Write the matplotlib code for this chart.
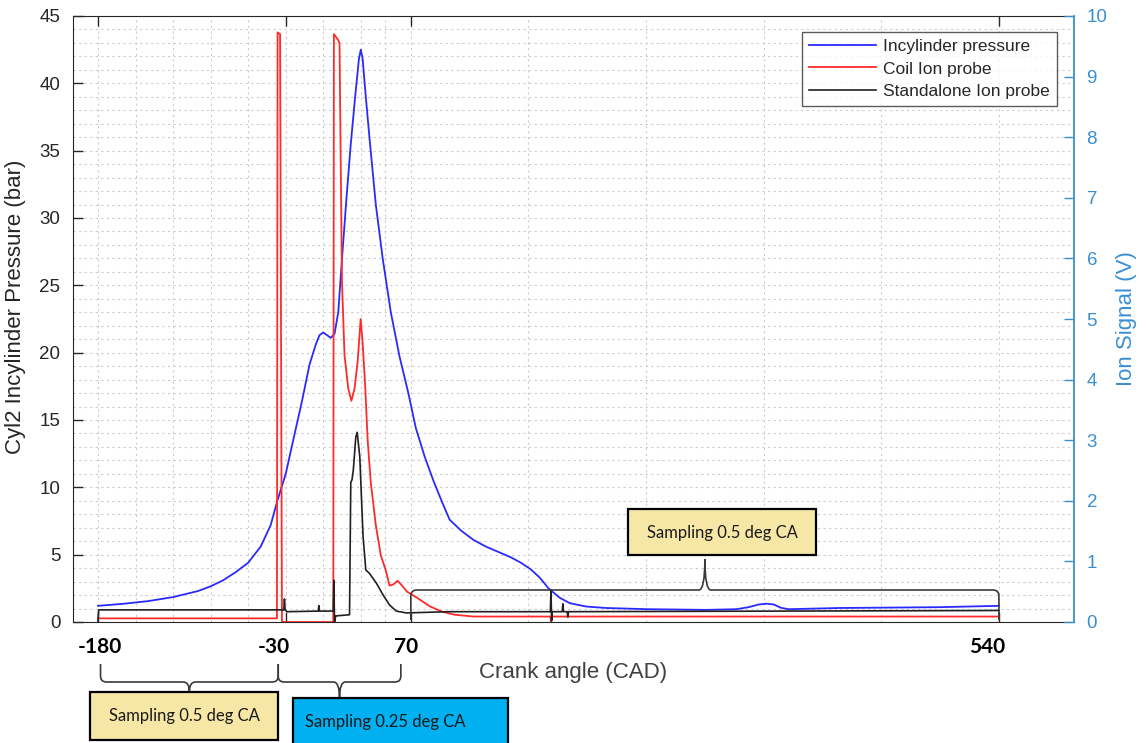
import matplotlib
matplotlib.use('Agg')
import matplotlib.pyplot as plt
from matplotlib.patches import Rectangle, PathPatch
from matplotlib.path import Path
from matplotlib.ticker import MultipleLocator, FixedLocator

# in-cylinder pressure (bar) vs crank angle
p_cad = [-180, -160, -140, -120, -100, -90, -80, -70, -60, -50, -42, -37, -30, -24,
         -17, -11, -6, -3, 0, 3, 6, 9, 12, 15, 18.5, 22, 25.5, 28.5, 30, 31.5, 34,
         37, 42, 47.5, 54, 61, 68, 74, 81, 88, 95, 101, 110, 120, 130, 140, 150,
         158, 166, 173, 180, 189, 197, 210, 226, 260, 306, 330, 340, 348, 354, 360,
         366, 372, 412, 492, 540]
p_bar = [1.2, 1.35, 1.55, 1.85, 2.3, 2.65, 3.1, 3.7, 4.4, 5.6, 7.2, 8.9, 11.0, 13.5,
         16.4, 19.1, 20.6, 21.3, 21.5, 21.3, 21.1, 21.4, 23.0, 27.0, 31.4, 35.5, 39.0,
         41.8, 42.5, 41.8, 39.0, 35.9, 31.0, 27.0, 23.0, 19.7, 17.0, 14.4, 12.3, 10.5,
         8.9, 7.6, 6.8, 6.1, 5.6, 5.2, 4.8, 4.4, 3.9, 3.3, 2.5, 1.8, 1.4, 1.15, 1.04,
         0.95, 0.9, 0.95, 1.1, 1.3, 1.36, 1.3, 1.05, 0.95, 1.04, 1.1, 1.2]

# coil ion probe (V)
coil_cad = [-180, -37, -36.5, -34.5, -33, 8.0, 8.5, 10, 12, 13, 14, 15, 17, 20,
            22.5, 25, 27.5, 29.9, 31.5, 33.5, 35.5, 38, 42, 46, 50, 53, 56, 59.5, 63,
            67, 75, 85, 95, 105, 120, 181.5, 182, 182.5, 540]
coil_v = [0.06, 0.06, 9.73, 9.7, 0.0, 0.0, 9.7, 9.66, 9.6, 9.55, 7.5, 5.6, 4.4, 3.85,
          3.65, 3.85, 4.3, 5.0, 4.6, 3.9, 3.0, 2.3, 1.6, 1.1, 0.85, 0.6, 0.62, 0.68,
          0.6, 0.5, 0.4, 0.26, 0.17, 0.12, 0.09, 0.09, 0.0, 0.09, 0.09]

# standalone ion probe (V)
sa_cad = [-180, -179.5, -31.5, -31, -30.5, -29, -4, -3.5, -3, 8, 8.5, 9, 10, 21, 22,
          23, 24, 26, 27.1, 29.2, 31.8, 34, 37, 42.5, 47.7, 53, 58.4, 66.4, 100,
          181.5, 182, 182.5, 183, 191, 191.5, 192, 195, 195.5, 196, 540]
sa_v = [0.0, 0.2, 0.2, 0.38, 0.2, 0.17, 0.18, 0.27, 0.18, 0.18, 0.69, 0.0, 0.1, 0.12,
        2.3, 2.35, 2.5, 3.05, 3.13, 2.73, 1.42, 0.86, 0.8, 0.64, 0.45, 0.28, 0.18,
        0.15, 0.17, 0.17, 0.53, 0.02, 0.17, 0.17, 0.3, 0.17, 0.17, 0.08, 0.17, 0.19]

tick_cad = [-180, -30, 70, 540]
grid_cad = [-150, -120, -90, -60, 0, 30, 49, 164, 258, 352, 446]

W, H = 1148, 743
plt.rcParams['font.family'] = ['Liberation Sans', 'DejaVu Sans']
fig = plt.figure(figsize=(W / 100, H / 100), dpi=100)
fig.subplots_adjust(left=73 / W, right=1074 / W, bottom=1 - 622 / H, top=1 - 16 / H)
ax = fig.add_subplot(111)
ax2 = ax.twinx()

axis_col = '#262626'
ion_col = '#3A8FD2'
grid_kw = dict(color='#cccccc', linestyle=(0, (2, 3)), linewidth=0.8)

ax.set_xlim(-200, 600)
ax.set_ylim(0, 45)
ax2.set_ylim(0, 10)

ax.xaxis.set_major_locator(FixedLocator(tick_cad))
ax.xaxis.set_minor_locator(FixedLocator(grid_cad))
ax.set_xticklabels([])
ax.yaxis.set_major_locator(MultipleLocator(5))
ax.yaxis.set_minor_locator(MultipleLocator(1))
ax2.yaxis.set_major_locator(MultipleLocator(1))
ax.grid(True, which='both', **grid_kw)
ax.set_axisbelow(True)

ax.tick_params(axis='both', which='major', direction='in', length=7, width=1,
               color=axis_col, labelcolor=axis_col, labelsize=13.5, top=True, pad=9)
ax.tick_params(axis='both', which='minor', length=0)
ax2.tick_params(axis='y', direction='in', length=7, width=1, color=ion_col,
                labelcolor=ion_col, labelsize=13.5, pad=9)
for s in ['left', 'top', 'bottom']:
    ax.spines[s].set_color(axis_col)
    ax2.spines[s].set_visible(False)
ax.spines['right'].set_visible(False)
ax2.spines['right'].set_color(ion_col)
ax2.spines['right'].set_linewidth(1.3)

l1, = ax.plot(p_cad, p_bar, color='#2a2aff', lw=1.3, label='Incylinder pressure')
l2, = ax2.plot(coil_cad, coil_v, color='#ff2a2a', lw=1.3, label='Coil Ion probe')
l3, = ax2.plot(sa_cad, sa_v, color='#202020', lw=1.2, label='Standalone Ion probe')

leg = ax2.legend(handles=[l1, l2, l3], loc='upper right', bbox_to_anchor=(0.983, 0.973),
                 borderaxespad=0, fancybox=False, fontsize=12.5, handlelength=3.9,
                 handletextpad=0.4, labelspacing=0.4, borderpad=0.4)
leg.get_frame().set_edgecolor('#333333')
leg.get_frame().set_linewidth(1.0)
for t in leg.get_texts():
    t.set_color(axis_col)

ax.set_ylabel('Cyl2 Incylinder Pressure (bar)', fontsize=16, color=axis_col)
ax.yaxis.set_label_coords(-0.047, 0.52)
ax2.set_ylabel('Ion Signal (V)', fontsize=16, color=ion_col)
ax2.yaxis.set_label_coords(1.042, 0.5)
ax.set_xlabel('Crank angle (CAD)', fontsize=16, color='#404040')
ax.xaxis.set_label_coords(0.5, -0.066)

# bold crank angle marks below the axis
label_shift = [2, -12, -5, -12]
for v, dx in zip(tick_cad, label_shift):
    ax.annotate(str(v), xy=(v, 0), xycoords=('data', 'axes fraction'),
                xytext=(dx, -25), textcoords='offset pixels', ha='center', va='center',
                fontsize=15, fontweight='bold', family=['Lato', 'DejaVu Sans'],
                color='black', annotation_clip=False)


def to_px(xd):
    return ax.transData.transform((xd, 0))[0]


def brace(x0, x1, y_end, y_line, y_tip, r=6):
    # pixel coords, y measured from top of image
    xm = (x0 + x1) / 2
    d = 1 if y_line > y_end else -1
    verts = [(x0, y_end), (x0, y_line - d * r), (x0, y_line), (x0 + r, y_line),
             (xm - r, y_line), (xm, y_line), (xm, y_tip),
             (xm, y_line), (xm + r, y_line),
             (x1 - r, y_line), (x1, y_line), (x1, y_line - d * r), (x1, y_end)]
    codes = [Path.MOVETO, Path.LINETO, Path.CURVE3, Path.CURVE3,
             Path.LINETO, Path.CURVE3, Path.CURVE3,
             Path.CURVE3, Path.CURVE3,
             Path.LINETO, Path.CURVE3, Path.CURVE3, Path.LINETO]
    verts = [(x / W, 1 - y / H) for x, y in verts]
    fig.add_artist(PathPatch(Path(verts, codes), fill=False, edgecolor='#3a3a3a',
                             lw=1.2, transform=fig.transFigure))


def box(x0, y0, x1, y1, fc, txt, tx, ha='center'):
    fig.add_artist(Rectangle((x0 / W, 1 - y1 / H), (x1 - x0) / W, (y1 - y0) / H,
                             facecolor=fc, edgecolor='black', lw=1.6,
                             transform=fig.transFigure, clip_on=False))
    fig.text(tx / W, 1 - (y0 + 24) / H, txt, ha=ha, va='center', fontsize=12,
             family=['Lato', 'DejaVu Sans'], color='#1a1a1a')


brace(to_px(70), to_px(540), 620, 590, 559)
brace(to_px(-178), to_px(-36), 664, 682, 692)
brace(to_px(-36), to_px(62), 664, 682, 698)

box(628, 509, 816, 555, '#F7E7A6', 'Sampling 0.5 deg CA', 722)
box(90, 692, 278, 740, '#F7E7A6', 'Sampling 0.5 deg CA', 184)
box(293, 698, 508, 760, '#00B0F0', 'Sampling 0.25 deg CA', 305, ha='left')

fig.savefig('out.png', dpi=100)
